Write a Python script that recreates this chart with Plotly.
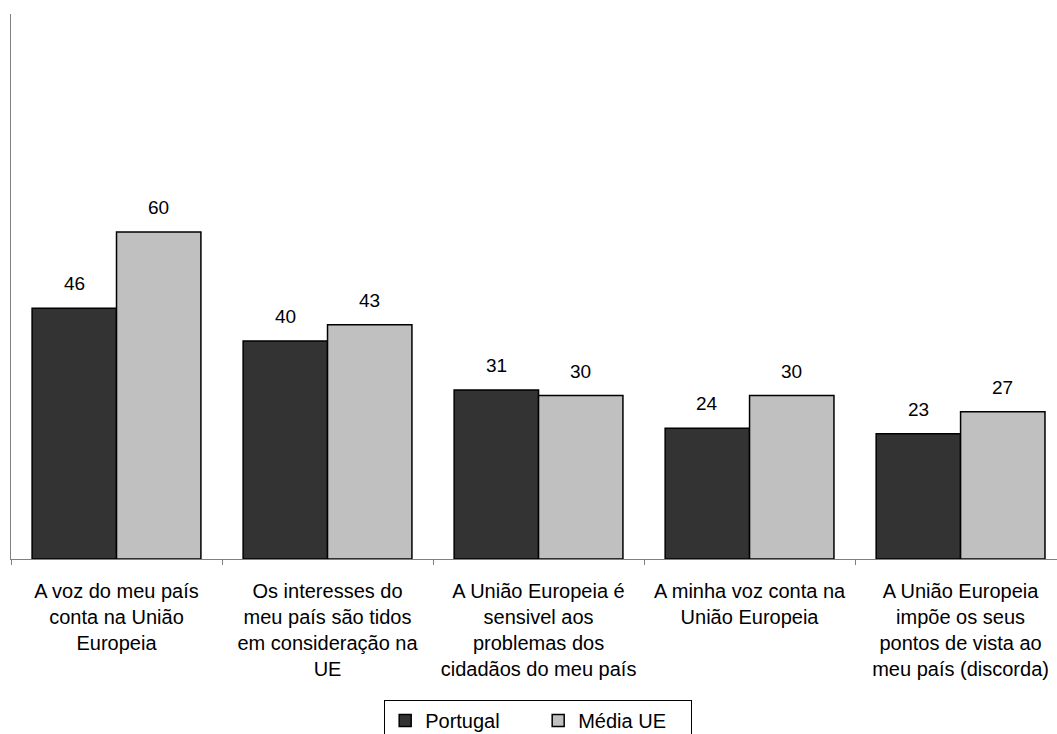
import plotly.graph_objects as go

categories = [
    "A voz do meu país<br>conta na União<br>Europeia",
    "Os interesses do<br>meu país são tidos<br>em consideração na<br>UE",
    "A União Europeia é<br>sensivel aos<br>problemas dos<br>cidadãos do meu país",
    "A minha voz conta na<br>União Europeia",
    "A União Europeia<br>impõe os seus<br>pontos de vista ao<br>meu país (discorda)",
]
portugal = [46, 40, 31, 24, 23]
media_ue = [60, 43, 30, 30, 27]

FONT = "Arial, Liberation Sans, sans-serif"

fig = go.Figure()
fig.add_trace(go.Bar(name="Portugal", x=categories, y=portugal,
                     marker=dict(color="#333333", line=dict(color="#000000", width=1.5))))
fig.add_trace(go.Bar(name="Média UE", x=categories, y=media_ue,
                     marker=dict(color="#C0C0C0", line=dict(color="#000000", width=1.5))))

annotations = []
for i, (p, m) in enumerate(zip(portugal, media_ue)):
    for off, v in ((-0.2, p), (0.2, m)):
        annotations.append(dict(x=i + off, y=v, xref="x", yref="y", text=str(v),
                                showarrow=False, yanchor="bottom", yshift=12,
                                font=dict(family=FONT, size=19, color="#000000")))

fig.update_layout(
    width=1057, height=734,
    margin=dict(l=11, r=0, t=14, b=175, autoexpand=False),
    paper_bgcolor="white", plot_bgcolor="white",
    barmode="group", bargap=0.2, bargroupgap=0,
    font=dict(family=FONT, size=20, color="#000000"),
    annotations=annotations,
    showlegend=True,
    legend=dict(orientation="h", x=0.504, xanchor="center", y=-0.2587, yanchor="top",
                bordercolor="#000000", borderwidth=1, bgcolor="white",
                font=dict(family=FONT, size=20, color="#000000"),
                entrywidth=108, entrywidthmode="pixels", traceorder="normal"),
    xaxis=dict(type="category", range=[-0.5, 4.457], showgrid=False, zeroline=False,
               showline=True, linecolor="#808080", linewidth=1,
               ticks="outside", ticklen=5, tickcolor="#808080", tickson="boundaries",
               ticklabelstandoff=14,
               tickfont=dict(family=FONT, size=20, color="#000000")),
    yaxis=dict(range=[0, 100], showgrid=False, zeroline=False, showticklabels=False,
               showline=True, linecolor="#808080", linewidth=1, ticks=""),
)

fig.write_html("out.html", config={"displayModeBar": False},
               post_script="document.body.style.margin='0px';")
